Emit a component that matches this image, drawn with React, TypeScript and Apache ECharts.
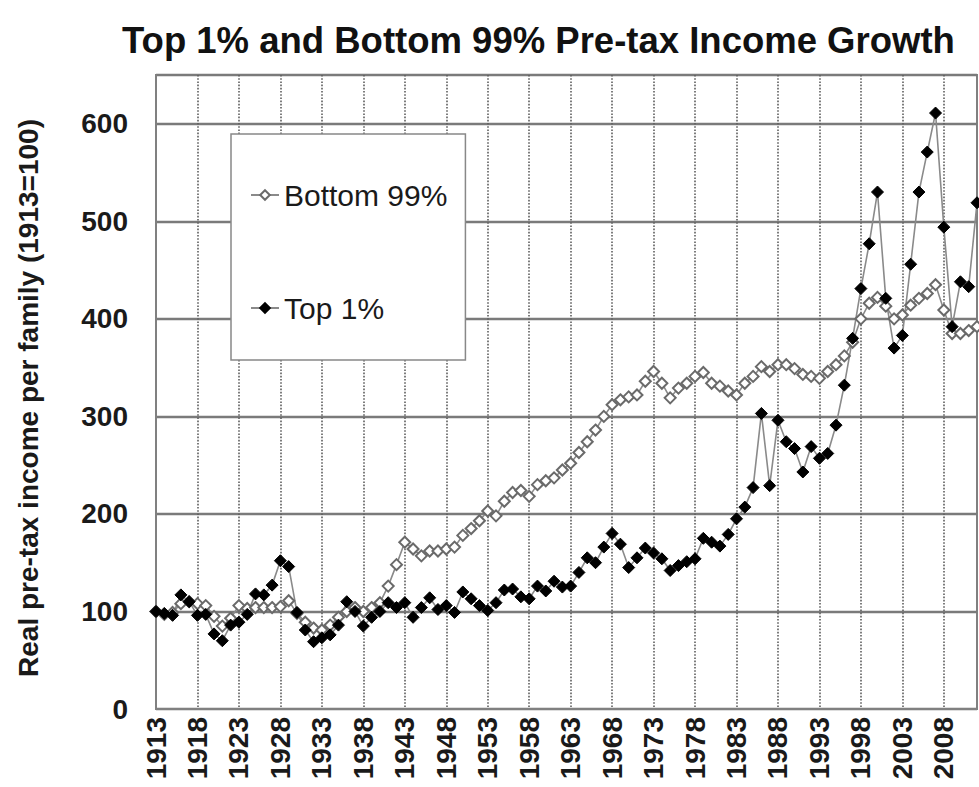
import React, { useEffect, useRef } from "react";
import * as echarts from "echarts";

const FONT = "'Liberation Sans', Arial, sans-serif";

const titleText = "Top 1% and Bottom 99% Pre-tax Income Growth";
const yAxisName = "Real pre-tax income per family (1913=100)";
const seriesNames = ["Bottom 99%", "Top 1%"];
const firstYear = 1913;

// Bottom 99% index, 1913..2012
const bottom99 = [
  100, 97, 99, 108, 110, 108, 106, 95, 85, 93,
  106, 103, 104, 104, 104, 105, 111, 98, 89, 83,
  81, 86, 94, 100, 104, 100, 104, 109, 126, 148,
  171, 164, 157, 162, 162, 164, 166, 178, 185, 193,
  203, 198, 213, 222, 224, 218, 230, 234, 237, 245,
  252, 263, 274, 286, 300, 312, 317, 320, 322, 336,
  346, 334, 319, 329, 334, 341, 345, 334, 331, 326,
  322, 334, 341, 351, 346, 353, 353, 349, 343, 341,
  339, 346, 353, 362, 376, 400, 416, 422, 413, 400,
  404, 414, 421, 426, 435, 409, 385, 385, 388, 392,
];

// Top 1% index, 1913..2012
const top1 = [
  100, 98, 96, 117, 110, 96, 97, 77, 70, 86,
  89, 97, 118, 117, 127, 152, 146, 99, 81, 69,
  73, 76, 86, 110, 100, 85, 94, 100, 109, 104,
  109, 94, 104, 114, 102, 106, 99, 120, 113, 106,
  101, 109, 122, 123, 115, 113, 126, 121, 131, 125,
  126, 140, 155, 150, 166, 180, 169, 145, 155, 165,
  160, 154, 142, 147, 151, 154, 175, 171, 167, 179,
  195, 207, 227, 303, 229, 296, 274, 267, 243, 269,
  257, 262, 291, 332, 380, 431, 477, 530, 421, 370,
  383, 456, 530, 571, 611, 494, 392, 438, 433, 519,
];

const years = bottom99.map((_, i) => String(firstYear + i));

export default function App() {
  const ref = useRef<HTMLDivElement>(null);

  useEffect(() => {
    if (!ref.current) return;
    const chart = echarts.init(ref.current, null, { renderer: "svg" });
    chart.setOption({
      animation: false,
      backgroundColor: "#ffffff",
      textStyle: { fontFamily: FONT },
      title: {
        text: titleText,
        left: 117,
        top: 17,
        textStyle: { fontFamily: FONT, fontSize: 36.5, fontWeight: "bold", color: "#111" },
      },
      legend: {
        orient: "vertical",
        left: 231,
        top: 134,
        padding: [46, 18, 37, 19],
        itemGap: 83,
        itemWidth: 28,
        itemHeight: 12,
        backgroundColor: "#ffffff",
        borderColor: "#888",
        borderWidth: 1.5,
        textStyle: { fontFamily: FONT, fontSize: 30, color: "#1a1a1a" },
        data: seriesNames,
      },
      grid: {
        left: 156,
        right: 2,
        top: 75,
        bottom: 78,
        show: true,
        borderColor: "#808080",
        borderWidth: 2,
        backgroundColor: "#ffffff",
        outerBoundsMode: "none",
      },
      xAxis: {
        type: "category",
        data: years,
        boundaryGap: false,
        axisLine: { lineStyle: { color: "#808080", width: 2 } },
        axisTick: { show: false },
        axisLabel: {
          interval: 4,
          rotate: 90,
          margin: 8,
          fontFamily: FONT,
          fontSize: 28,
          fontWeight: "bold",
          color: "#1a1a1a",
        },
        splitLine: {
          show: true,
          interval: 4,
          lineStyle: { type: "dotted", color: "#5e5e5e", width: 1.6 },
        },
      },
      yAxis: {
        type: "value",
        min: 0,
        max: 650,
        interval: 100,
        name: yAxisName,
        nameLocation: "middle",
        nameGap: 114,
        nameTextStyle: {
          fontFamily: FONT,
          fontSize: 28,
          fontWeight: "bold",
          color: "#1a1a1a",
          padding: [0, 12, 0, 0],
        },
        axisLine: { show: true, lineStyle: { color: "#808080", width: 2 } },
        axisTick: { show: false },
        axisLabel: {
          margin: 28,
          fontFamily: FONT,
          fontSize: 28,
          fontWeight: "bold",
          color: "#1a1a1a",
          showMaxLabel: false,
        },
        splitLine: { show: true, lineStyle: { color: "#7a7a7a", width: 2.4 } },
      },
      series: [
        {
          name: seriesNames[0],
          type: "line",
          data: bottom99,
          symbol: "diamond",
          symbolSize: 11,
          showAllSymbol: true,
          lineStyle: { color: "#8a8a8a", width: 1.6 },
          itemStyle: { color: "#ffffff", borderColor: "#6a6a6a", borderWidth: 2 },
        },
        {
          name: seriesNames[1],
          type: "line",
          data: top1,
          symbol: "diamond",
          symbolSize: 12,
          showAllSymbol: true,
          lineStyle: { color: "#8a8a8a", width: 1.6 },
          itemStyle: { color: "#000000", borderColor: "#000000", borderWidth: 1 },
        },
      ],
    });
    return () => chart.dispose();
  }, []);

  return (
    <div
      ref={ref}
      style={{ position: "absolute", left: 0, top: 0, width: 979, height: 787, background: "#fff" }}
    />
  );
}
